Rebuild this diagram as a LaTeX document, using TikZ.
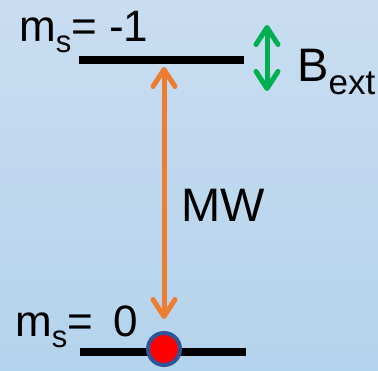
\documentclass[tikz,border=0pt]{standalone}
\usepackage{fontspec}
\setmainfont{Liberation Sans}
\usetikzlibrary{arrows.meta}

\definecolor{bgtop}{HTML}{C9DDF1}
\definecolor{bgbottom}{HTML}{B4D3EC}
\definecolor{mworange}{HTML}{ED7D31}
\definecolor{fieldgreen}{HTML}{00B050}
\definecolor{dotblue}{HTML}{2F5597}

\newcommand{\lowidx}[3]{\raisebox{-#2}{\fontsize{#3}{#3}\selectfont #1}}

\begin{document}
\begin{tikzpicture}[
        x=1pt, y=-1pt,
        level line/.style={draw, line width=7.5pt},
        state text/.style={anchor=base west, inner sep=0pt, font=\fontsize{44}{48}\selectfont},
        field text/.style={anchor=base west, inner sep=0pt, font=\fontsize{47}{50}\selectfont},
        spin/.style={circle, draw=dotblue, fill=red, line width=4pt, minimum size=32pt, inner sep=0pt, outer sep=0pt},
        mw arrow/.style={draw=mworange, line width=5pt, {Straight Barb[round,length=17pt,width=22pt]}-{Straight Barb[round,length=17pt,width=22pt]}},
        field arrow/.style={draw=fieldgreen, line width=5pt, {Straight Barb[round,length=17pt,width=22pt]}-{Straight Barb[round,length=17pt,width=22pt]}}
    ]
    \shade[top color=bgtop, bottom color=bgbottom] (0,0) rectangle (378,371);
    \useasboundingbox (0,0) rectangle (378,371);
    \draw[level line] (79,60) -- (244,60);
    \draw[level line] (80,352) -- (246,352);
    \coordinate (upper) at (164,60);
    \node[spin] (electron) at (164,349) {};
    \coordinate (field top) at (267,25);
    \coordinate (field bottom) at (267,91);
    \node[state text] (upper label) at (19,42) {m\lowidx{s}{11pt}{31}= -1};
    \node[state text] (lower label) at (15,337) {m\lowidx{s}{11pt}{31}=\hspace{20pt}0};
    \node[field text] (field label) at (297,82) {B\lowidx{ext}{13pt}{35}};
    \node[field text] (mw label) at (181,222) {MW};
    \draw[mw arrow, shorten <=7pt, shorten >=14pt] (upper) -- (electron);
    \draw[field arrow] (field top) -- (field bottom);
\end{tikzpicture}
\end{document}
